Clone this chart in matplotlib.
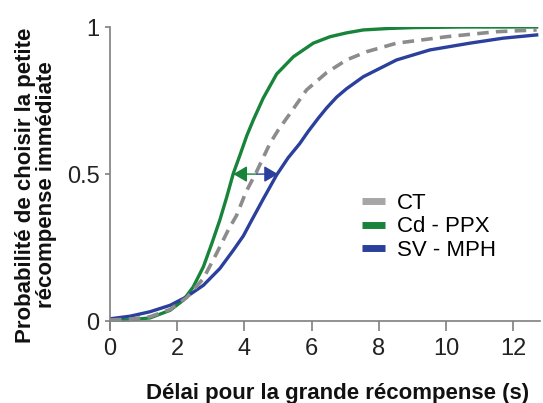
import matplotlib
matplotlib.use("Agg")
import matplotlib.pyplot as plt
from matplotlib.lines import Line2D

plt.rcParams['font.family'] = ['Liberation Sans', 'DejaVu Sans']

# Data
x_ct = [0, 0.6, 1.19, 1.79, 2.28, 2.78, 3.17, 3.52, 3.77, 4.05, 4.35, 4.76, 5.01, 5.36, 5.85, 6.45, 7.04, 7.64, 8.53, 10.02, 11.5, 12.7]
y_ct = [0.004, 0.007, 0.015, 0.04, 0.08, 0.145, 0.23, 0.31, 0.36, 0.44, 0.505, 0.604, 0.65, 0.706, 0.786, 0.845, 0.888, 0.916, 0.945, 0.967, 0.984, 0.99]

x_cd = [0, 0.6, 1.19, 1.79, 2.18, 2.48, 2.78, 3.03, 3.27, 3.47, 3.67, 3.87, 4.07, 4.27, 4.56, 4.96, 5.46, 6.05, 6.55, 7.04, 7.54, 8.3, 9.03, 10.5, 12.7]
y_cd = [0.003, 0.005, 0.011, 0.037, 0.071, 0.117, 0.185, 0.264, 0.344, 0.42, 0.502, 0.565, 0.63, 0.685, 0.758, 0.84, 0.899, 0.945, 0.967, 0.98, 0.99, 0.995, 0.998, 1.0, 1.0]

x_sv = [0, 0.6, 1.19, 1.79, 2.28, 2.78, 3.27, 3.67, 3.97, 4.17, 4.56, 4.96, 5.3, 5.65, 5.9, 6.2, 6.45, 6.75, 7.04, 7.54, 8.53, 9.52, 10.71, 11.7, 12.7]
y_sv = [0.008, 0.017, 0.032, 0.054, 0.083, 0.122, 0.179, 0.241, 0.29, 0.333, 0.415, 0.497, 0.555, 0.604, 0.645, 0.69, 0.725, 0.762, 0.79, 0.831, 0.888, 0.922, 0.945, 0.962, 0.973]

labels = ["CT", "Cd - PPX", "SV - MPH"]
x_ticks = [0, 2, 4, 6, 8, 10, 12]
y_ticks = [0, 0.5, 1]
y_tick_labels = ["0", "0.5", "1"]

# arrows at p = 0.5
arrow_y = 0.5
arrow_mid = 4.37
arrow_green_end = 3.67
arrow_blue_end = 5.0

col_ct = '#8c8c8c'
col_ct_leg = '#a6a6a6'
col_cd = '#17843a'
col_sv = '#2a409c'

fig = plt.figure(figsize=(5.43, 4.03), dpi=100)
ax = fig.add_axes([110/543, 1-330/403, 430/543, 303/403])

ax.plot(x_ct, y_ct, color=col_ct, lw=2.6, ls=(0, (3.2, 2.0)), zorder=3)
ax.plot(x_cd, y_cd, color=col_cd, lw=2.4, zorder=2, solid_joinstyle='round')
ax.plot(x_sv, y_sv, color=col_sv, lw=2.4, zorder=2, solid_joinstyle='round')

ax.annotate('', xy=(arrow_green_end, arrow_y), xytext=(arrow_mid, arrow_y),
            arrowprops=dict(arrowstyle='-|>,head_length=0.6,head_width=0.35', color=col_cd, lw=1.0,
                            mutation_scale=14, shrinkA=0, shrinkB=0), zorder=5)
ax.annotate('', xy=(arrow_blue_end, arrow_y), xytext=(arrow_mid, arrow_y),
            arrowprops=dict(arrowstyle='-|>,head_length=0.6,head_width=0.35', color=col_sv, lw=1.0,
                            mutation_scale=14, shrinkA=0, shrinkB=0), zorder=5)

handles = [Line2D([0], [0], color=col_ct_leg, lw=5, solid_capstyle='butt'),
           Line2D([0], [0], color=col_cd, lw=5, solid_capstyle='butt'),
           Line2D([0], [0], color=col_sv, lw=5, solid_capstyle='butt')]
ax.legend(handles, labels, loc='center left', bbox_to_anchor=(0.585, 0.34), frameon=False,
          fontsize=16, handlelength=1.05, handletextpad=0.55, labelspacing=0.12,
          borderpad=0, borderaxespad=0)

ax.set_xlim(0, 12.8)
ax.set_ylim(-0.03, 1.0)
ax.spines['bottom'].set_position(('data', 0))
for s in ['top', 'right']:
    ax.spines[s].set_visible(False)
for s in ['left', 'bottom']:
    ax.spines[s].set_color('#7f7f7f')
    ax.spines[s].set_linewidth(1.2)

ax.set_xticks(x_ticks)
ax.set_yticks(y_ticks)
ax.set_yticklabels(y_tick_labels)
ax.tick_params(axis='both', direction='out', width=1.2, color='#7f7f7f',
               labelsize=17, labelcolor='#222222')
ax.tick_params(axis='x', length=7, pad=5)
ax.tick_params(axis='y', length=3.6, pad=4)

fig.text(337.5/543, 1-393/403, "Délai pour la grande récompense (s)", ha='center', va='center',
         fontsize=16, fontweight='bold', color='#111111')
fig.text(36/543, 1-185/403, "Probabilité de choisir la petite\nrécompense immédiate", ha='center', va='center',
         rotation=90, fontsize=16, fontweight='bold', color='#111111', linespacing=1.0)

fig.savefig('out.png', dpi=100)
